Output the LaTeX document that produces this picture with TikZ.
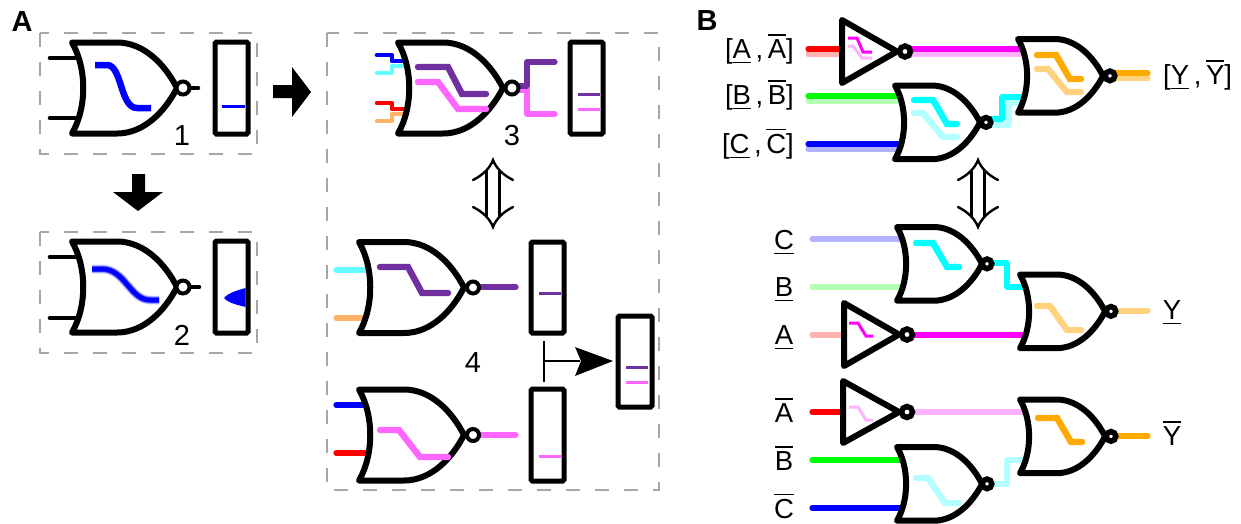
\documentclass[tikz,border=0pt]{standalone}
\usepackage{fontspec}
\setmainfont{Liberation Sans}
\definecolor{Rd}{HTML}{FF0000}\definecolor{RdL}{HTML}{FFB3B3}
\definecolor{Gr}{HTML}{00FF00}\definecolor{GrL}{HTML}{B3FFB3}
\definecolor{Bl}{HTML}{0000FF}\definecolor{BlL}{HTML}{B3B3FF}
\definecolor{Mg}{HTML}{FF00FF}\definecolor{MgL}{HTML}{FFB3FF}
\definecolor{Cy}{HTML}{00FFFF}\definecolor{CyL}{HTML}{B3FFFF}
\definecolor{Or}{HTML}{FFAA00}\definecolor{OrL}{HTML}{FFD280}
\definecolor{Pu}{HTML}{7030A0}\definecolor{Pk}{HTML}{FF66FF}
\definecolor{CyM}{HTML}{66FFFF}\definecolor{OrM}{HTML}{FFB366}
\definecolor{Gy}{HTML}{A6A6A6}
\newcommand\ubar[1]{\leavevmode\vtop{\hbox{#1}\kern3.5pt\hrule height 1.3pt}}
\newcommand\obar[1]{\leavevmode\vbox{\hrule height 1.3pt\kern3.5pt\hbox{#1}}}
% #1 x, #2 y of upper tip, #3 scale, #4 bubble x, #5 bubble radius, #6 bubble line width
\newcommand\norgate[6]{%
  \begin{scope}[shift={(#1,#2)},scale=#3]
    \draw[gateline,fill=white] (0,0) -- (45,0) .. controls (72,0) and (93,22) .. (105,45.5)
      .. controls (93,69) and (72,91) .. (45,91) -- (0,91) .. controls (15,65) and (15,26) .. (0,0) -- cycle;
  \end{scope}
  \draw[line width=#6,fill=white] (#4,{#2+45.5*#3}) circle (#5);}
% #1 left x, #2 top y, #3 bottom y, #4 tip x, #5 bubble x
\newcommand\invgate[5]{%
  \draw[gateline,fill=white] (#1,#2) -- (#4,{(#2+#3)/2}) -- (#1,#3) -- cycle;
  \draw[line width=5.5,fill=white] (#5,{(#2+#3)/2}) circle (5.5);}
\newcommand\meter[4]{\draw[line width=5,rounded corners=1.5,fill=white] (#1,#2) rectangle (#3,#4);}
\newcommand\updown[1]{%
  \begin{scope}[shift={(#1,0)}]
    \draw[line width=2.4,line cap=round,line join=miter,fill=white]
      (-20,180) .. controls (-10,175) and (-3,168) .. (0,160) .. controls (3,168) and (10,175) .. (20,180);
    \draw[line width=2.4,line cap=round]
      (-20,207) .. controls (-10,212) and (-3,219) .. (0,227) .. controls (3,219) and (10,212) .. (20,207);
    \draw[line width=2.4] (-6.5,170) -- (-6.5,217) (6.5,170) -- (6.5,217);
  \end{scope}}
\tikzset{
  gateline/.style={line width=6,line join=round,line cap=round},
  blackwire/.style={line width=4.6,line cap=round},
  wire/.style={line width=5.2,line cap=round,line join=round},
  thick wire/.style={line width=6.4,line cap=round,line join=miter},
  fine wire/.style={line width=3,line join=miter},
  lvlline/.style={line width=3},
  dbox/.style={draw=Gy,line width=1.7,dash pattern=on 14pt off 15pt},
  lab/.style={font=\fontsize{29}{30}\selectfont,inner sep=0pt},
  txt/.style={font=\fontsize{27.5}{30}\selectfont,inner sep=0pt},
  head/.style={font=\fontsize{29}{30}\selectfont\bfseries,inner sep=0pt},
}
\begin{document}
\begin{tikzpicture}[x=1pt,y=-1pt]
\useasboundingbox (0,0) rectangle (1241,523);
% dashed frames
\draw[dbox] (40,33) rectangle (257,154);
\draw[dbox] (40,232) rectangle (257,353);
\draw[dbox] (327,33) rectangle (659,490);
\node[head] (la) at (22,22) {A};
\node[head] (lb) at (707,21) {B};
% block arrows
\fill (273,85) -- (292,85) -- (292,67) -- (311,92) -- (292,117) -- (292,98) -- (273,98) -- cycle;
\fill (132,174) -- (145,174) -- (145,192) -- (163,192) -- (138,211) -- (113,192) -- (132,192) -- cycle;
% A1
\draw[blackwire] (50,58) -- (80,58) (50,118) -- (80,118) (185,88) -- (198,88);
\norgate{72}{42.5}{1}{183}{6.5}{4}
\draw[line width=6.5,Bl] (95,65) -- (107,65) .. controls (122,65) and (120,108) .. (137,108) -- (151,108);
\meter{215}{42}{248}{134}
\draw[lvlline,Bl] (222,106) -- (245,106);
\node[lab] (n1) at (182,136) {1};
% A2
\draw[blackwire] (50,257) -- (80,257) (50,318) -- (80,318) (185,287) -- (199,287);
\norgate{72}{241.5}{1}{183}{6.5}{4}
\foreach \w/\o in {9/.1,8/.15,7/.25,5.5/.6,4.5/1}
  \draw[line width=\w,Bl,opacity=\o] (92,269) -- (102,269) .. controls (125,269) and (130,300) .. (150,300) -- (159,300);
\meter{215}{241}{248}{333}
\fill[Bl] (245.5,288) .. controls (238,290) and (228,293) .. (224,298) .. controls (228,303) and (238,305) .. (245.5,307) -- cycle;
\node[lab] (n2) at (182,335) {2};
% A3
\draw[line width=4.6,line join=round,line cap=round,Bl] (377,55) -- (392,55) -- (392,61) -- (408,61);
\draw[line width=4.6,line join=round,line cap=round,CyM] (377,73) -- (392,73) -- (392,66) -- (408,66);
\draw[line width=4.6,line join=round,line cap=round,Rd] (377,103) -- (392,103) -- (392,109) -- (408,109);
\draw[line width=4.6,line join=round,line cap=round,OrM] (377,121) -- (392,121) -- (392,114) -- (406,114);
\draw[wire,Pk] (520,90) -- (527,90) -- (527,114) -- (555,114);
\draw[wire,Pu] (520,86) -- (527,86) -- (527,62) -- (555,62);
\norgate{398}{42.5}{1}{512}{6.5}{4}
\draw[thick wire,Pu] (418,67) -- (448,67) -- (462,94) -- (486,94);
\draw[thick wire,Pk] (418,82) -- (438,82) -- (458,109) -- (486,109);
\meter{570}{42}{603}{134}
\draw[lvlline,Pu] (578,94) -- (600,94);
\draw[lvlline,Pk] (578,109) -- (600,109);
\node[lab] (n3) at (512,136) {3};
\updown{493}
% A4 upper
\draw[wire,CyM] (336,270) -- (370,270);
\draw[wire,OrM] (336,318) -- (366,318);
\draw[wire,Pu] (478,287) -- (516,287);
\norgate{359}{242}{1}{473}{6}{4}
\draw[thick wire,Pu] (380,267) -- (408,267) -- (422,293) -- (448,293);
\meter{531}{242}{564}{333}
\draw[lvlline,Pu] (539,293) -- (561,293);
% A4 lower
\draw[wire,Bl] (336,405) -- (366,405);
\draw[wire,Rd] (336,453) -- (370,453);
\draw[wire,Pk] (478,435) -- (516,435);
\norgate{359}{389.5}{1}{473}{6}{4}
\draw[thick wire,Pk] (380,430) -- (399,430) -- (420,457) -- (448,457);
\meter{531}{389}{564}{481}
\draw[lvlline,Pk] (539,456) -- (561,456);
\node[lab] (n4) at (473,363) {4};
% merge
\meter{618}{316}{652}{407}
\draw[lvlline,Pu] (626,367) -- (648,367);
\draw[lvlline,Pk] (626,382) -- (648,382);
\draw[line width=2.8] (544,341) -- (544,382);
\draw[line width=2.8] (544,361) -- (580,361);
\fill (575,347) -- (613,361) -- (575,376) -- (581,361) -- cycle;
% B top group
\draw[wire,RdL] (808,54) -- (845,54);
\draw[wire,Rd] (808,49) -- (845,49);
\draw[wire,MgL] (910,54) -- (1026,54);
\draw[wire,Mg] (910,49) -- (1026,49);
\draw[wire,GrL] (808,101) -- (905,101);
\draw[wire,Gr] (808,96) -- (905,96);
\draw[wire,BlL] (808,149) -- (902,149);
\draw[wire,Bl] (808,144) -- (902,144);
\draw[wire,CyL] (990,125) -- (1009,125) -- (1009,103) -- (1026,103);
\draw[wire,Cy] (990,119) -- (1002,119) -- (1002,97) -- (1026,97);
\draw[wire,OrL] (1113,78) -- (1148,78);
\draw[wire,Or] (1113,73) -- (1148,73);
\invgate{842}{20}{83}{897}{905}
\draw[fine wire,MgL] (848,46) -- (853,46) -- (862,58) -- (872,58);
\draw[fine wire,Mg] (848,38) -- (857,38) -- (863,52) -- (872,52);
\norgate{895}{85.5}{.81}{986}{4.8}{5.5}
\draw[thick wire,CyL] (914,113) -- (923,113) -- (943,137) -- (957,137);
\draw[thick wire,Cy] (914,100) -- (933,100) -- (947,124) -- (957,124);
\norgate{1018}{39}{.81}{1110}{4.8}{5.5}
\draw[thick wire,OrL] (1037,69) -- (1048,69) -- (1067,92) -- (1081,92);
\draw[thick wire,Or] (1037,55) -- (1056,55) -- (1070,79) -- (1081,79);
\node[txt,anchor=base east] (t1) at (794,58) {[\ubar{A}\,,\,\obar{A}]};
\node[txt,anchor=base east] (t2) at (794,104) {[\ubar{B}\,,\,\obar{B}]};
\node[txt,anchor=base east] (t3) at (794,153) {[\ubar{C}\,,\,\obar{C}]};
\node[txt,anchor=base west] (t4) at (1163,84) {[\ubar{Y}\,,\,\obar{Y}]};
\updown{978}
% B middle group
\draw[wire,BlL] (812,239) -- (902,239);
\draw[wire,GrL] (812,287) -- (902,287);
\draw[wire,RdL] (812,335) -- (846,335);
\draw[wire,Mg] (912,335) -- (1027,335);
\draw[wire,Cy] (992,263) -- (1007,263) -- (1007,287) -- (1027,287);
\draw[wire,OrL] (1115,311) -- (1148,311);
\norgate{897}{227}{.81}{987}{4.8}{5.5}
\draw[thick wire,Cy] (916,243) -- (933,243) -- (947,267) -- (959,267);
\invgate{844}{303}{366}{899}{907}
\draw[fine wire,Mg] (849,323) -- (858,323) -- (866,336) -- (873,336);
\norgate{1020}{274.5}{.81}{1111}{4.8}{5.5}
\draw[thick wire,OrL] (1037,306) -- (1050,306) -- (1067,330) -- (1081,330);
\node[txt,anchor=base] (t5) at (784,249) {\ubar{C}};
\node[txt,anchor=base] (t6) at (784,296) {\ubar{B}};
\node[txt,anchor=base] (t7) at (784,344) {\ubar{A}};
\node[txt,anchor=base] (t8) at (1172,319) {\ubar{Y}};
% B lower group
\draw[wire,Rd] (812,412) -- (846,412);
\draw[wire,MgL] (912,412) -- (1027,412);
\draw[wire,Gr] (812,460) -- (902,460);
\draw[wire,Bl] (812,508) -- (902,508);
\draw[wire,CyL] (992,484) -- (1007,484) -- (1007,460) -- (1027,460);
\draw[wire,Or] (1115,436) -- (1148,436);
\invgate{843}{381}{443}{899}{907}
\draw[fine wire,MgL] (849,407) -- (858,407) -- (866,420) -- (873,420);
\norgate{897}{447}{.81}{987}{4.8}{5.5}
\draw[thick wire,CyL] (916,478) -- (928,478) -- (945,503) -- (959,503);
\norgate{1020}{399.5}{.81}{1111}{4.8}{5.5}
\draw[thick wire,Or] (1038,418) -- (1057,418) -- (1071,442) -- (1082,442);
\node[txt,anchor=base] (t9) at (784,422) {\obar{A}};
\node[txt,anchor=base] (t10) at (784,470) {\obar{B}};
\node[txt,anchor=base] (t11) at (784,518) {\obar{C}};
\node[txt,anchor=base] (t12) at (1172,445) {\obar{Y}};
\end{tikzpicture}
\end{document}
